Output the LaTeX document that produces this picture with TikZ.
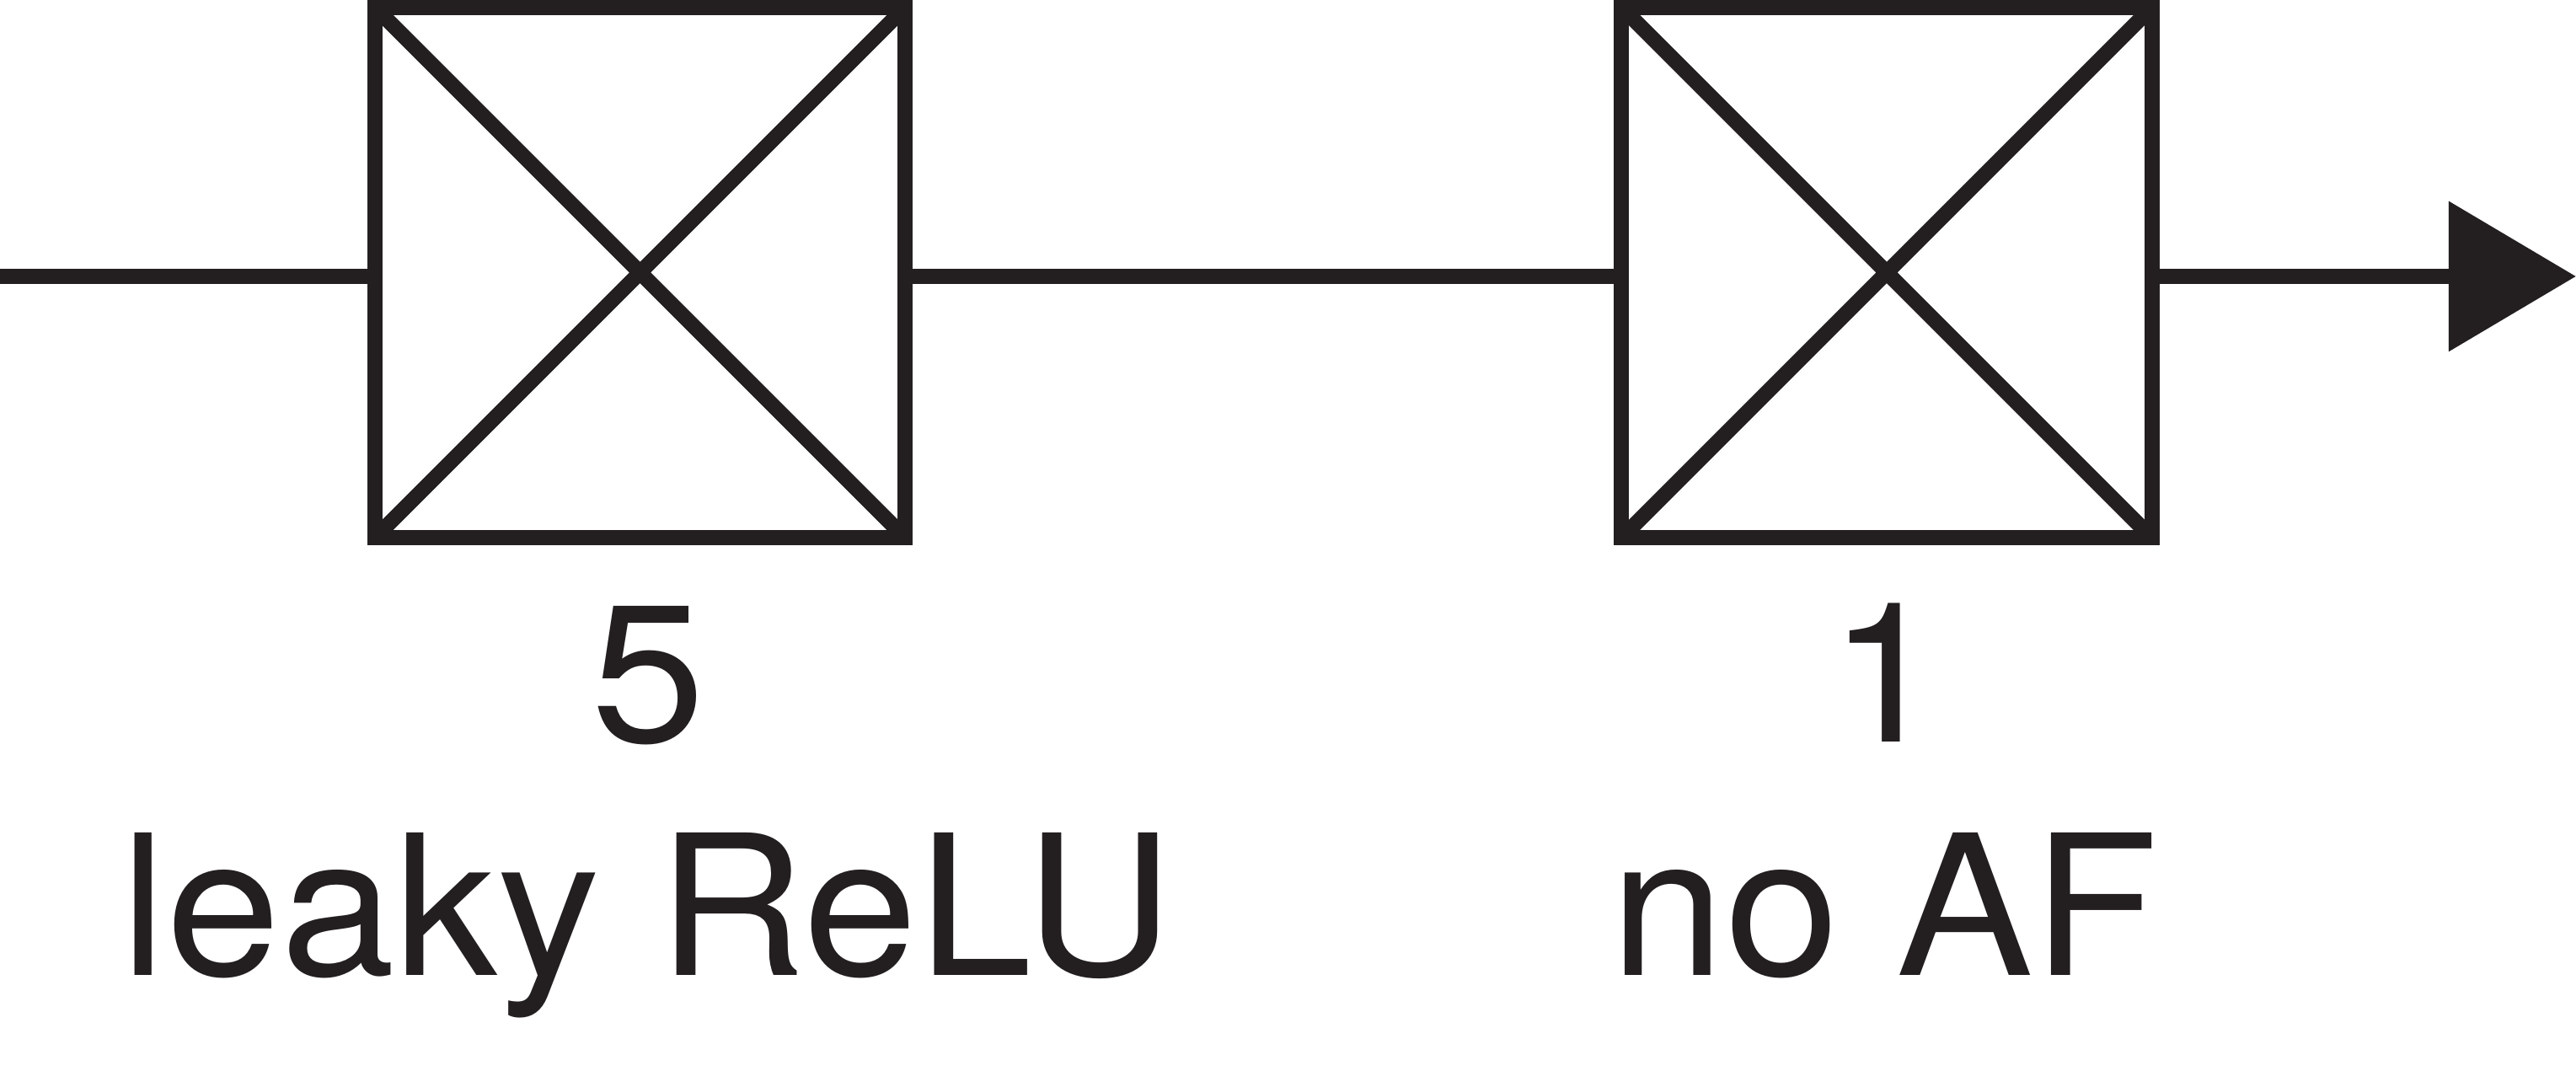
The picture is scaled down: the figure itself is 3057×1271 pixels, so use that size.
\documentclass[tikz,border=0pt]{standalone}
\usepackage{fontspec}
\setmainfont[FakeStretch=1.05]{TeX Gyre Heros}
\usetikzlibrary{arrows.meta}
\definecolor{ink}{HTML}{231F20}
\begin{document}
\begin{tikzpicture}[x=0.01cm,y=-0.01cm,
  wire/.style={draw=ink,line width=0.18cm},
  unit/.style={draw=ink,line width=0.18cm,minimum size=6.29cm,inner sep=0pt,outer sep=0pt},
  lab/.style={text=ink,font=\fontsize{66}{70}\selectfont,anchor=base,inner sep=0pt}]
\useasboundingbox (0,0) rectangle (3057,1271);
\node[unit] (b1) at (759.5,323.5) {};
\node[unit] (b2) at (2239,323.5) {};
\draw[wire] (b1.north west) -- (b1.south east) (b1.south west) -- (b1.north east);
\draw[wire] (b2.north west) -- (b2.south east) (b2.south west) -- (b2.north east);
\coordinate (in) at (0,328);
\coordinate (out) at (3057,328);
\draw[wire] (in) -- (in -| b1.west);
\draw[wire] (b1.east |- in) -- (b2.west |- in);
\draw[wire,-{Triangle[length=1.51cm,width=1.74cm,fill=ink]}] (b2.east |- out) -- (out);
\node[lab] (n1) at (769,881) {5};
\node[lab] (a1) at (768,1158) {leaky ReLU};
\node[lab] (n2) at (2238,881) {1};
\node[lab] (a2) at (2237,1158) {no AF};
\end{tikzpicture}
\end{document}
